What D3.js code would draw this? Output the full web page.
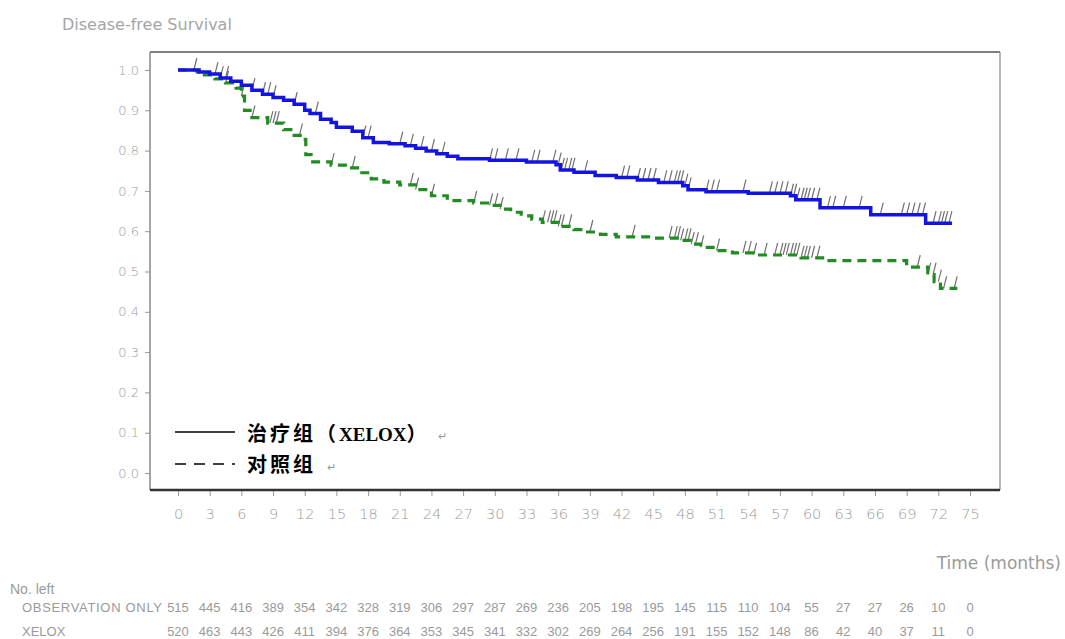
<!DOCTYPE html>
<html>
<head>
<meta charset="utf-8">
<script src="https://cdn.jsdelivr.net/npm/d3@7"></script>
<style>
  body { margin: 0; background: #fff; }
  svg { display: block; }
</style>
</head>
<body>
<div id="chart"></div>
<script>
// 步进生存曲线 (月, 生存率)
const xeloxTime = [0, 2, 3, 4, 5, 6, 7, 8, 9, 10, 11, 12, 12.5, 13.5, 14.5, 15, 16.5, 17.5, 18.5, 20, 21.5, 22.5, 23.5, 24.5, 25.5, 26.5, 29.5, 33, 35.8, 36.2, 37.5, 39.5, 41.5, 43.5, 45.5, 47.8, 48.3, 50, 54, 58, 58.5, 60.8, 65.6, 70.8, 73.3];
const xeloxSurv = [1.0, 0.995, 0.99, 0.98, 0.972, 0.962, 0.95, 0.94, 0.932, 0.925, 0.915, 0.9, 0.892, 0.878, 0.87, 0.858, 0.848, 0.832, 0.82, 0.817, 0.812, 0.806, 0.799, 0.792, 0.786, 0.78, 0.776, 0.772, 0.765, 0.752, 0.746, 0.738, 0.733, 0.727, 0.721, 0.713, 0.703, 0.698, 0.694, 0.688, 0.678, 0.658, 0.641, 0.62, 0.62];

const obsTime = [0, 1.8, 2.5, 3.5, 4.5, 5.5, 6, 6.3, 7, 8.5, 10, 11, 11.8, 12.1, 12.6, 14.5, 16, 17, 18.3, 19.5, 21, 22.5, 24, 25.5, 28, 29.5, 30.5, 31.5, 32.5, 33.5, 34.5, 36, 37.5, 38.5, 40, 41.5, 45, 47.5, 48.5, 49.5, 51, 52.5, 54.5, 59, 61.2, 69, 71, 71.6, 72.2, 73.8];
const obsSurv = [1.0, 0.995, 0.988, 0.978, 0.968, 0.955, 0.935, 0.9, 0.882, 0.868, 0.852, 0.838, 0.828, 0.79, 0.772, 0.764, 0.757, 0.745, 0.73, 0.722, 0.715, 0.703, 0.688, 0.676, 0.67, 0.664, 0.655, 0.647, 0.638, 0.63, 0.622, 0.612, 0.604, 0.598, 0.592, 0.586, 0.583, 0.577, 0.568, 0.56, 0.552, 0.546, 0.541, 0.534, 0.527, 0.511, 0.492, 0.475, 0.458, 0.458];

// 删失标记 (月)
const xeloxCensor = [1.5, 3.5, 4, 4.5, 7, 8, 8.5, 9, 11, 13, 17.5, 18, 21, 22, 23, 24, 25, 29.5, 30, 31, 32, 33.5, 34, 35.5, 36, 36.3, 36.6, 37, 37.3, 38.5, 42, 42.5, 43.5, 44, 44.5, 45, 46, 46.5, 47, 47.3, 47.6, 48, 48.3, 50, 50.5, 51, 53.5, 56, 56.5, 57, 57.5, 58, 58.3, 58.6, 59, 59.3, 59.6, 60, 60.5, 61.5, 62, 63, 64.5, 66.5, 68.5, 69, 69.5, 70, 70.5, 71.5, 72, 72.3, 72.6, 73];
const obsCensor = [4.5, 6, 7, 8.7, 9, 9.3, 11.5, 14.5, 16.5, 22, 22.5, 24, 28, 29.5, 30, 30.5, 34.5, 35, 35.3, 35.6, 36, 36.3, 37, 39, 43, 46.5, 47, 47.3, 47.6, 48, 48.3, 48.6, 49, 49.5, 51, 53.5, 54, 54.5, 55.5, 56.5, 57, 57.3, 57.6, 58, 58.3, 58.6, 59, 59.3, 59.6, 60, 60.5, 70, 71, 71.5, 72, 72.5, 73.5];

const xTicks = d3.range(0, 76, 3);
const yTicks = d3.range(0, 1.01, 0.1);

const obsLeft = [515, 445, 416, 389, 354, 342, 328, 319, 306, 297, 287, 269, 236, 205, 198, 195, 145, 115, 110, 104, 55, 27, 27, 26, 10, 0];
const xeloxLeft = [520, 463, 443, 426, 411, 394, 376, 364, 353, 345, 341, 332, 302, 269, 264, 256, 191, 155, 152, 148, 86, 42, 40, 37, 11, 0];

const width = 1065, height = 639;
const frame = { left: 150, right: 1000, top: 52, bottom: 490 };

const svg = d3.select("#chart").append("svg")
    .attr("width", width)
    .attr("height", height)
    .style("font-family", "'Liberation Sans', Arial, sans-serif");

const x = d3.scaleLinear().domain([0, 75]).range([178, 970]);
const y = d3.scaleLinear().domain([0, 1]).range([473, 70]);

const gray = "#9a9a9a";

// 标题
svg.append("text")
    .attr("x", 62).attr("y", 30)
    .attr("font-size", 16).attr("fill", "#a5a5a5")
    .attr("font-family", "'DejaVu Sans', sans-serif")
    .text("Disease-free Survival");

// 坐标轴
const yAxis = svg.append("g")
    .attr("transform", `translate(${frame.left},0)`)
    .call(d3.axisLeft(y).tickValues(yTicks).tickFormat(d3.format(".1f")).tickSize(5).tickPadding(6));
const xAxis = svg.append("g")
    .attr("transform", `translate(0,${frame.bottom})`)
    .call(d3.axisBottom(x).tickValues(xTicks).tickSize(6).tickPadding(13));

[yAxis, xAxis].forEach(a => {
    a.select(".domain").remove();
    a.selectAll(".tick line").attr("stroke", "#999");
    a.selectAll(".tick text").attr("fill", gray).attr("font-size", 14.5).attr("font-family", "'DejaVu Sans', sans-serif").style("font-weight", 300);
});
yAxis.selectAll(".tick text").attr("font-size", 13);

// 边框
svg.append("line").attr("x1", frame.left).attr("x2", frame.right).attr("y1", frame.top).attr("y2", frame.top)
    .attr("stroke", "#555").attr("stroke-width", 1.5);
svg.append("line").attr("x1", frame.right).attr("x2", frame.right).attr("y1", frame.top).attr("y2", frame.bottom)
    .attr("stroke", "#888").attr("stroke-width", 1.2);
svg.append("line").attr("x1", frame.left).attr("x2", frame.left).attr("y1", frame.top).attr("y2", frame.bottom)
    .attr("stroke", "#888").attr("stroke-width", 1.5);
svg.append("line").attr("x1", frame.left).attr("x2", frame.right).attr("y1", frame.bottom).attr("y2", frame.bottom)
    .attr("stroke", "#333").attr("stroke-width", 2.5);

// 曲线
const stepLine = d3.line().x(d => x(d[0])).y(d => y(d[1])).curve(d3.curveStepAfter);

function survAt(times, surv, t) {
    const i = d3.bisectRight(times, t) - 1;
    return surv[Math.max(0, i)];
}

function drawCensor(times, surv, marks, color) {
    svg.append("g")
        .selectAll("line")
        .data(marks)
        .join("line")
        .attr("x1", d => x(d))
        .attr("y1", d => y(survAt(times, surv, d)))
        .attr("x2", d => x(d) + 3)
        .attr("y2", d => y(survAt(times, surv, d)) - 12)
        .attr("stroke", color)
        .attr("stroke-opacity", 0.7)
        .attr("stroke-width", 1.2);
}

drawCensor(obsTime, obsSurv, obsCensor, "#333");
drawCensor(xeloxTime, xeloxSurv, xeloxCensor, "#333");

svg.append("path")
    .datum(d3.zip(obsTime, obsSurv))
    .attr("d", stepLine)
    .attr("fill", "none")
    .attr("stroke", "#228b22")
    .attr("stroke-width", 3.2)
    .attr("stroke-dasharray", "9,6");

svg.append("path")
    .datum(d3.zip(xeloxTime, xeloxSurv))
    .attr("d", stepLine)
    .attr("fill", "none")
    .attr("stroke", "#1414e0")
    .attr("stroke-width", 3.5);

// 图例
const legend = svg.append("g");
legend.append("line").attr("x1", 175).attr("x2", 235).attr("y1", 432).attr("y2", 432)
    .attr("stroke", "#000").attr("stroke-width", 1.5);
legend.append("line").attr("x1", 175).attr("x2", 235).attr("y1", 464).attr("y2", 464)
    .attr("stroke", "#000").attr("stroke-width", 1.5).attr("stroke-dasharray", "11,8");

const cjk = "'Noto Sans CJK SC', sans-serif";
const row1 = legend.append("text").attr("x", 247).attr("y", 441)
    .attr("font-weight", "bold").attr("font-size", 20).attr("fill", "#000");
row1.append("tspan").attr("font-family", cjk).attr("letter-spacing", 3).text("治疗组（");
row1.append("tspan").attr("font-family", "'Liberation Serif', serif").attr("font-size", 19).text("XELOX");
row1.append("tspan").attr("font-family", cjk).text("）");
legend.append("text").attr("x", 247).attr("y", 472)
    .attr("font-family", cjk).attr("font-weight", "bold")
    .attr("font-size", 20).attr("letter-spacing", 3).attr("fill", "#000")
    .text("对照组");
legend.append("text").attr("x", 438).attr("y", 440).attr("font-size", 11).attr("fill", "#999").text("↵");
legend.append("text").attr("x", 327).attr("y", 471).attr("font-size", 11).attr("fill", "#999").text("↵");

// 轴标题
svg.append("text")
    .attr("x", 1061).attr("y", 569).attr("text-anchor", "end")
    .attr("font-size", 17).attr("fill", gray)
    .attr("font-family", "'DejaVu Sans', sans-serif")
    .text("Time (months)");

// 风险人数表
svg.append("text").attr("x", 10).attr("y", 594).attr("font-size", 14).attr("fill", gray).text("No. left");
svg.append("text").attr("x", 22).attr("y", 612).attr("font-size", 13).attr("fill", gray)
    .attr("textLength", 140).text("OBSERVATION ONLY");
svg.append("text").attr("x", 22).attr("y", 636).attr("font-size", 13).attr("fill", gray).text("XELOX");

svg.append("g").selectAll("text")
    .data(obsLeft)
    .join("text")
    .attr("x", (d, i) => x(xTicks[i]))
    .attr("y", 612)
    .attr("text-anchor", "middle")
    .attr("font-size", 13)
    .attr("fill", gray)
    .text(d => d);

svg.append("g").selectAll("text")
    .data(xeloxLeft)
    .join("text")
    .attr("x", (d, i) => x(xTicks[i]))
    .attr("y", 636)
    .attr("text-anchor", "middle")
    .attr("font-size", 13)
    .attr("fill", gray)
    .text(d => d);
</script>
</body>
</html>
